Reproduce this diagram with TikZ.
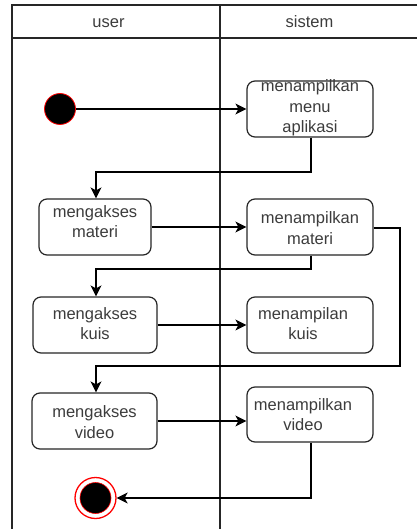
\documentclass[tikz,border=0pt]{standalone}
\usepackage{fontspec}
\setmainfont{Liberation Sans}
\usetikzlibrary{arrows.meta}
\definecolor{stroke}{HTML}{262626}
\definecolor{txtcol}{HTML}{3C3C3C}
\begin{document}
\begin{tikzpicture}[x=1pt,y=-1pt,
  frame/.style={line width=1.3pt,draw=stroke},
  actbox/.style={draw=stroke,line width=1.2pt,rounded corners=8pt,fill=white,inner sep=0pt},
  txt/.style={text=txtcol,align=center,inner sep=0pt,font=\fontsize{16.5}{20.5}\selectfont},
  conn/.style={draw=black,line width=1.2pt},
  arr/.style={conn,-{Stealth[length=11pt,width=11pt,inset=3pt]}}]
\useasboundingbox (0,0) rectangle (417,529);
% swimlane frame
\coordinate (tl) at (12,5);
\coordinate (tr) at (417,5);
\coordinate (hl) at (12,38);
\coordinate (hr) at (417,38);
\coordinate (bl) at (12,529);
\coordinate (dt) at (220,5);
\coordinate (db) at (220,529);
\draw[frame] (tr) -- (tl) -- (bl);
\draw[frame] (hl) -- (hr);
\draw[frame] (dt) -- (db);
\node[txt,anchor=base] (hu) at (108.5,28) {user};
\node[txt,anchor=base] (hs) at (309.5,28) {sistem};
% boxes
\node[actbox,minimum width=126pt,minimum height=56pt] (mm) at (310,109) {};
\node[actbox,minimum width=112pt,minimum height=56pt] (am) at (95,227) {};
\node[actbox,minimum width=126pt,minimum height=56pt] (tm) at (310,227) {};
\node[actbox,minimum width=124pt,minimum height=56pt] (ak) at (95,325) {};
\node[actbox,minimum width=126pt,minimum height=56pt] (tk) at (310,325) {};
\node[actbox,minimum width=125pt,minimum height=56pt] (av) at (94.5,421) {};
\node[actbox,minimum width=126pt,minimum height=55pt] (tv) at (310,414.5) {};
% start / end
\node[circle,fill=black,draw=red,line width=0.8pt,minimum size=31pt,inner sep=0pt] (st) at (60,109) {};
\node[circle,fill=white,draw=red,line width=1.3pt,minimum size=41pt,inner sep=0pt] (en) at (95.5,498) {};
\node[circle,fill=black,draw=red,line width=0.6pt,minimum size=31pt,inner sep=0pt] (enin) at (95.5,498) {};
% connectors
\coordinate (j1a) at (311,172);
\coordinate (j1b) at (96,172);
\coordinate (j2a) at (311,269);
\coordinate (j2b) at (96,269);
\coordinate (j3a) at (400,228);
\coordinate (j3b) at (400,366);
\coordinate (j3c) at (96,366);
\coordinate (j4) at (311,498);
\draw[arr] (st.east) -- (mm.west);
\draw[arr] (mm.south -| j1a) -- (j1a) -- (j1b) -- (j1b |- am.north);
\draw[arr] (am.east) -- (tm.west);
\draw[arr] (tm.south -| j2a) -- (j2a) -- (j2b) -- (j2b |- ak.north);
\draw[arr] (ak.east) -- (tk.west);
\draw[arr] (tm.east |- j3a) -- (j3a) -- (j3b) -- (j3c) -- (j3c |- av.north);
\draw[arr] (av.east) -- (tv.west |- av.east);
\draw[arr] (tv.south -| j4) -- (j4) -- (en.east);
% texts
\node[txt] (mmt) at (310,108) {menampilkan\\menu\\aplikasi};
\node[txt] (amt) at (95,221.5) {mengakses\\materi};
\node[txt] (tmt) at (310,228) {menampilkan\\materi};
\node[txt] (akt) at (95,323.5) {mengakses\\kuis};
\node[txt] (tkt) at (303,323.5) {menampilan\\kuis};
\node[txt] (avt) at (94.5,422) {mengakses\\video};
\node[txt] (tvt) at (303,414.5) {menampilkan\\video};
\end{tikzpicture}
\end{document}
